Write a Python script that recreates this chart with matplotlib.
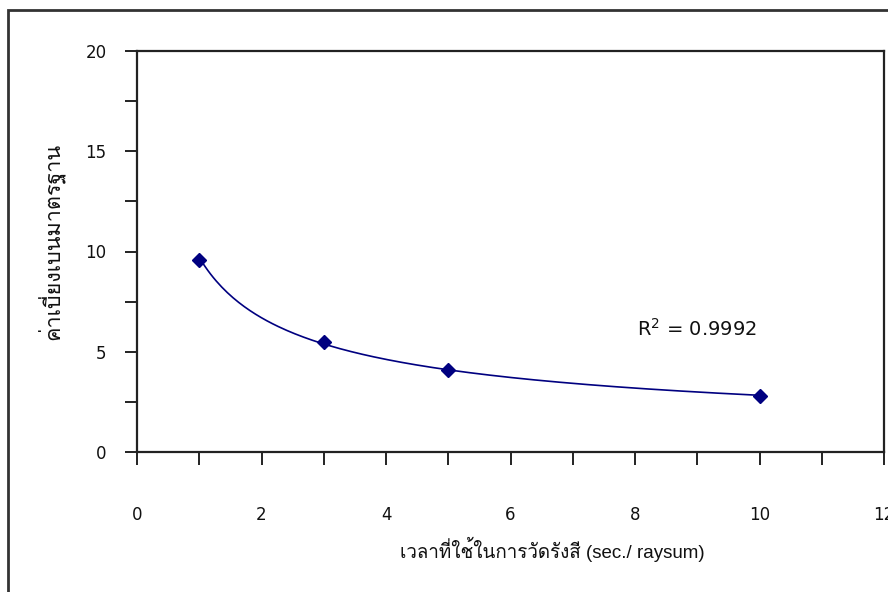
import matplotlib
matplotlib.use("Agg")
import matplotlib.pyplot as plt
from matplotlib import font_manager
from matplotlib.ft2font import FT2Font
from matplotlib.patches import Rectangle
import numpy as np

# Data
exposure_time = [1, 3, 5, 10]          # sec./raysum
std_dev = [9.6, 5.5, 4.1, 2.8]
x_ticks = [0, 2, 4, 6, 8, 10, 12]
y_ticks = [0, 5, 10, 15, 20]
r2_label = "R$^{2}$ = 0.9992"
x_label = "เวลาที่ใช้ในการวัดรังสี (sec./ raysum)"
y_label = "ค่าเบี่ยงเบนมาตรฐาน"


def find_thai_family():
    for f in font_manager.fontManager.ttflist:
        try:
            if 0x0E40 in FT2Font(f.fname).get_charmap():
                return f.name
        except Exception:
            continue
    return None


thai = find_thai_family()
thai_list = [thai] if thai else []
plt.rcParams["font.family"] = ["DejaVu Sans"] + thai_list
label_families = ["Liberation Sans"] + thai_list + ["DejaVu Sans"]

navy = "#000080"
ink = "#111111"
fig = plt.figure(figsize=(8.88, 5.92), dpi=100)
W, H = 888, 592

# outer chart border
fig.patches.append(Rectangle((8 / W, -0.1), 1.1, 1 - 10 / H + 0.1,
                             transform=fig.transFigure, fill=False,
                             edgecolor="#333333", linewidth=2.0))

ax = fig.add_axes([137 / W, 1 - 452 / H, (884 - 137) / W, (452 - 51) / H])
ax.set_xlim(0, 12)
ax.set_ylim(0, 20)

# power trendline fitted to the points
b, ln_a = np.polyfit(np.log(exposure_time), np.log(std_dev), 1)
xs = np.linspace(min(exposure_time), max(exposure_time), 200)
ax.plot(xs, np.exp(ln_a) * xs ** b, color=navy, linewidth=1.2, zorder=2)
ax.plot(exposure_time, std_dev, linestyle="none", marker="D", markersize=7.5,
        color=navy, zorder=3)

ax.set_xticks(x_ticks)
ax.set_xticks(np.arange(0, 13, 1), minor=True)
ax.set_yticks(y_ticks)
ax.set_yticks(np.arange(0, 20.1, 2.5), minor=True)
for a in ("x", "y"):
    ax.tick_params(axis=a, which="both", direction="out", length=9,
                   width=1.3, color=ink, labelsize=12, labelcolor=ink)
ax.tick_params(axis="x", pad=36)
ax.tick_params(axis="y", pad=13)
for s in ax.spines.values():
    s.set_linewidth(1.6)
    s.set_color("#222222")
# x tick labels sit well below the axis line
for lbl in ax.get_xticklabels():
    lbl.set_va("center")

ax.set_xlabel(x_label, fontsize=13.5, color=ink, family=label_families,
              va="center")
ax.xaxis.set_label_coords(0.556, -0.244)
ax.set_ylabel(y_label, fontsize=15.5, color=ink, family=label_families,
              va="center")
ax.yaxis.set_label_coords(-0.115, 0.524)

ax.text(9.0, 6.15, r2_label, fontsize=14, ha="center", va="center", color=ink)

fig.savefig("out.png", dpi=100, facecolor="white")
